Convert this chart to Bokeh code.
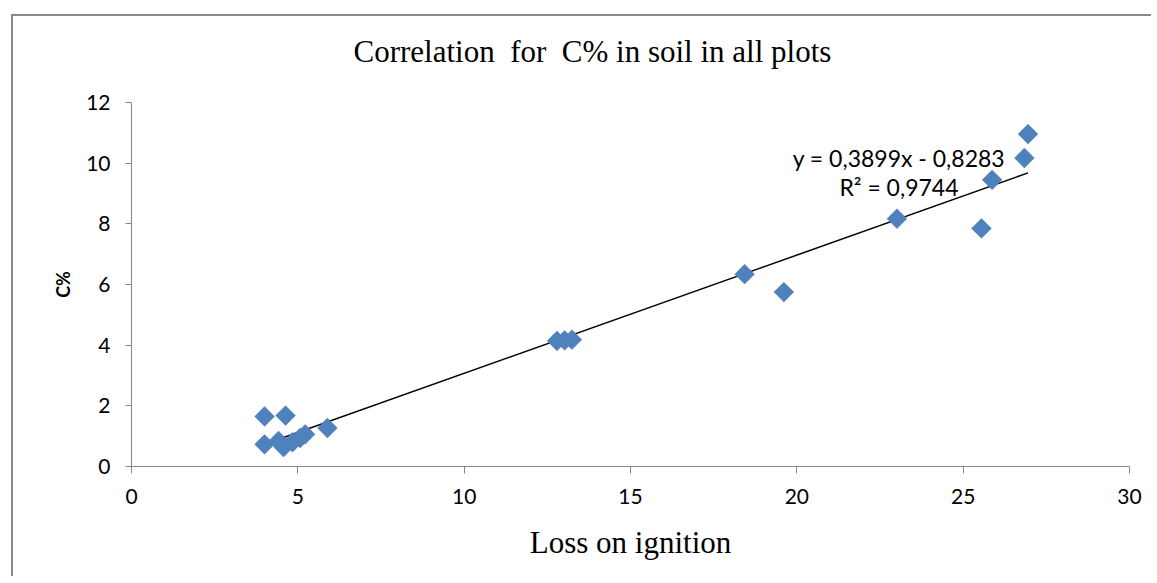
import numpy as np
from bokeh.plotting import figure
from bokeh.models import Range1d, Label, FixedTicker, Title
from bokeh.embed import file_html
from bokeh.resources import INLINE

# ---- data ----
loss_on_ignition = [4.00, 4.63, 4.00, 4.42, 4.57, 4.84, 5.07, 5.22, 5.89,
                    12.79, 13.02, 13.24, 18.43, 19.61, 23.01, 25.55, 25.87, 26.84, 26.95]
carbon_pct = [1.65, 1.68, 0.73, 0.84, 0.64, 0.80, 0.94, 1.06, 1.27,
              4.14, 4.16, 4.18, 6.34, 5.75, 8.17, 7.85, 9.45, 10.17, 10.96]
trend_slope = 0.3899
trend_intercept = -0.8283
r_squared = 0.9744
x_ticks = [0, 5, 10, 15, 20, 25, 30]
y_ticks = [0, 2, 4, 6, 8, 10, 12]

NB = "\u00a0"
title_text = "Correlation" + NB + " for" + NB + " C% in soil in all plots"
x_label = "Loss on ignition"
y_label = "C%"
eq_text = "y = 0,3899x - 0,8283"
r2_text = "R² = 0,9744"

W, H = 1140, 562
p = figure(width=W, height=H, output_backend="svg", toolbar_location=None,
           x_range=Range1d(0, 30), y_range=Range1d(0, 12),
           min_border_left=118, min_border_right=24,
           min_border_top=86, min_border_bottom=112)
p.margin = (14, 0, 0, 11)
p.styles = {"border-left": "2px solid #898989", "border-top": "2px solid #898989"}
p.background_fill_color = "white"
p.border_fill_color = "white"
p.outline_line_color = None
p.xgrid.visible = False
p.ygrid.visible = False

# spacer between frame and title
p.add_layout(Title(text=" ", text_font_size="1px", standoff=31), "above")

# title
p.title.text = title_text
p.title.text_font = "Liberation Serif"
p.title.text_font_size = "31px"
p.title.text_font_style = "normal"
p.title.text_color = "black"
p.title.align = "left"
p.title.offset = 222
p.title.standoff = 0

axis_color = "#868686"
for ax in (p.xaxis[0], p.yaxis[0]):
    ax.axis_line_color = axis_color
    ax.axis_line_width = 1
    ax.major_tick_line_color = axis_color
    ax.minor_tick_line_color = None
    ax.major_tick_in = 0
    ax.major_label_text_font = "Lato"
    ax.major_label_text_font_size = "21px"
    ax.major_label_text_color = "black"

p.xaxis.ticker = FixedTicker(ticks=x_ticks)
p.yaxis.ticker = FixedTicker(ticks=y_ticks)
p.xaxis.major_tick_out = 7
p.yaxis.major_tick_out = 6
p.xaxis.major_label_standoff = 15
p.yaxis.major_label_standoff = 15

p.xaxis.axis_label = x_label
p.xaxis.axis_label_text_font = "Liberation Serif"
p.xaxis.axis_label_text_font_size = "31px"
p.xaxis.axis_label_text_font_style = "normal"
p.xaxis.axis_label_text_color = "black"
p.xaxis.axis_label_standoff = 18

p.yaxis.axis_label = y_label
p.yaxis.axis_label_text_font = "Lato"
p.yaxis.axis_label_text_font_size = "18px"
p.yaxis.axis_label_text_font_style = "bold"
p.yaxis.axis_label_text_color = "black"
p.yaxis.axis_label_standoff = 9

# trend line over the data range
x_min, x_max = min(loss_on_ignition), max(loss_on_ignition)
tx = np.array([x_min, x_max])
ty = trend_slope * tx + trend_intercept
p.line(tx, ty, line_color="black", line_width=1.5)

# points
p.scatter(loss_on_ignition, carbon_pct, marker="square", angle=np.pi / 4,
          size=14, fill_color="#4F81BD", line_color="#4F81BD", line_width=0.5)

# equation labels (centred)
p.add_layout(Label(x=23.07, y=10.16, text=eq_text, text_align="center",
                   text_baseline="alphabetic", text_font="Lato",
                   text_font_size="23px", text_color="black"))
p.add_layout(Label(x=23.07, y=9.20, text=r2_text, text_align="center",
                   text_baseline="alphabetic", text_font="Lato",
                   text_font_size="23px", text_color="black"))

open("out.html", "w").write(file_html(p, INLINE))
